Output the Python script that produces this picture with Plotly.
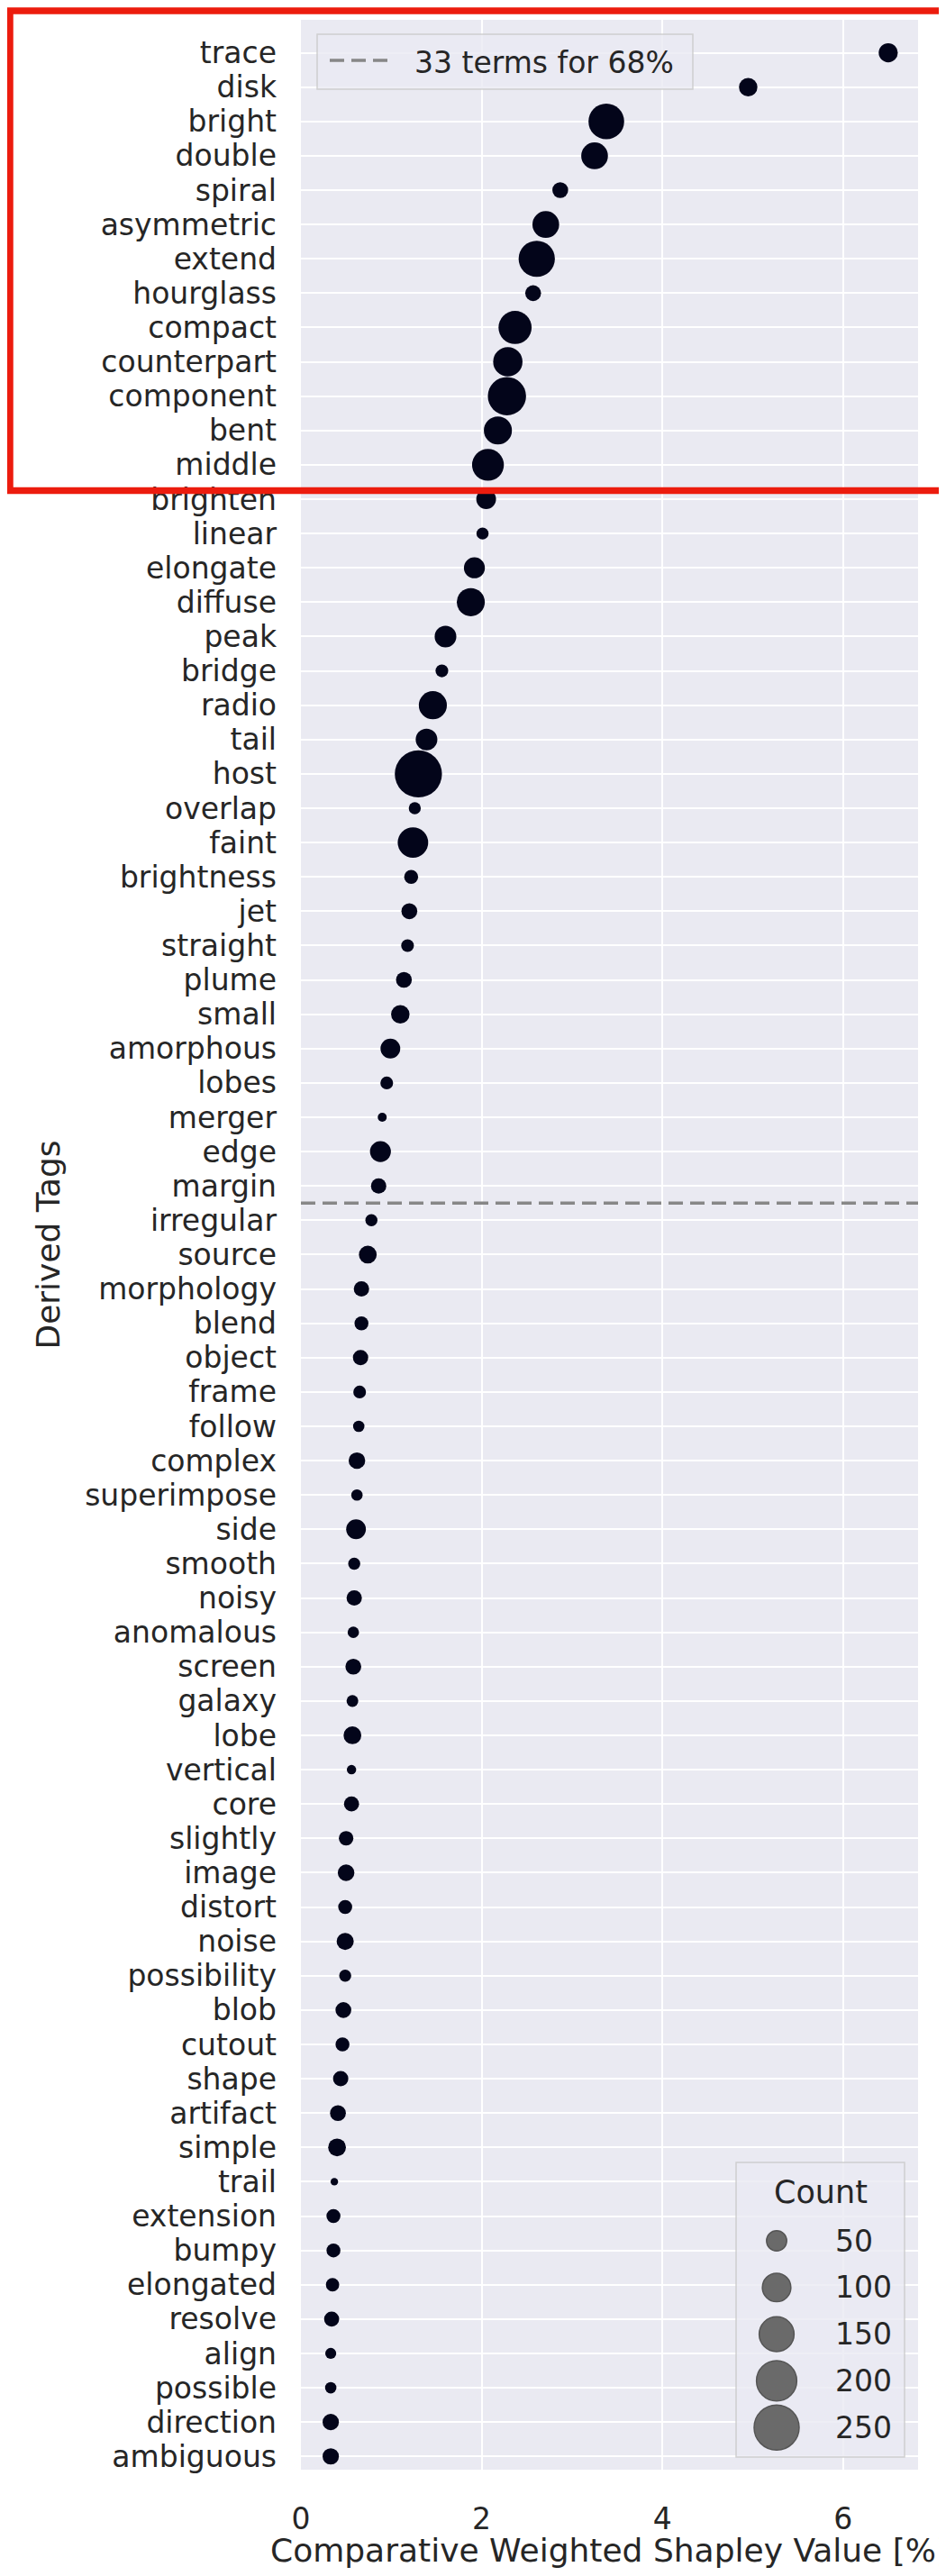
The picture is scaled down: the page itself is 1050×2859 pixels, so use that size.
import plotly.graph_objects as go

# ---------------- data ----------------
tags = [
    "trace", "disk", "bright", "double", "spiral", "asymmetric", "extend", "hourglass",
    "compact", "counterpart", "component", "bent", "middle", "brighten", "linear",
    "elongate", "diffuse", "peak", "bridge", "radio", "tail", "host", "overlap", "faint",
    "brightness", "jet", "straight", "plume", "small", "amorphous", "lobes", "merger",
    "edge", "margin", "irregular", "source", "morphology", "blend", "object", "frame",
    "follow", "complex", "superimpose", "side", "smooth", "noisy", "anomalous", "screen",
    "galaxy", "lobe", "vertical", "core", "slightly", "image", "distort", "noise",
    "possibility", "blob", "cutout", "shape", "artifact", "simple", "trail", "extension",
    "bumpy", "elongated", "resolve", "align", "possible", "direction", "ambiguous",
]
shapley_pct = [
    6.50, 4.95, 3.38, 3.25, 2.87, 2.71, 2.61, 2.57,
    2.37, 2.29, 2.28, 2.18, 2.07, 2.05, 2.01,
    1.92, 1.88, 1.60, 1.56, 1.46, 1.39, 1.30, 1.26, 1.24,
    1.22, 1.20, 1.18, 1.14, 1.10, 0.99, 0.95, 0.90,
    0.88, 0.86, 0.78, 0.74, 0.67, 0.67, 0.66, 0.65,
    0.64, 0.62, 0.62, 0.61, 0.59, 0.59, 0.58, 0.58,
    0.57, 0.57, 0.56, 0.56, 0.50, 0.50, 0.49, 0.49,
    0.49, 0.47, 0.46, 0.44, 0.41, 0.40, 0.37, 0.36,
    0.36, 0.35, 0.34, 0.33, 0.33, 0.33, 0.33,
]
counts = [
    45, 42, 157, 88, 31, 88, 162, 31,
    135, 106, 180, 97, 125, 48, 18,
    54, 97, 58, 20, 97, 58, 274, 18, 115,
    24, 31, 20, 31, 42, 48, 20, 10,
    54, 29, 18, 39, 29, 24, 29, 20,
    16, 34, 16, 48, 18, 29, 16, 31,
    17, 39, 11, 28, 26, 34, 24, 36,
    18, 31, 24, 29, 31, 39, 7, 24,
    24, 22, 28, 15, 16, 33, 33,
]
legend_counts = [50, 100, 150, 200, 250]
x_ticks = [0, 2, 4, 6]
rows_above_cutoff = 34
cutoff_label = "33 terms for 68%"

# ---------------- geometry ----------------
OFF = 8                      # browser default body margin
W, H = 1050 - OFF, 2859 - 2 * OFF
PL, PR, PT, PB = 334, 1019, 22, 2741      # plot area in page pixels
L, T = PL - OFF, PT - OFF
R = W - (PR - OFF)
B = H - (PB - OFF)

XR = [0, 6.83]
n = len(tags)
Y_TOP, Y_BOT = -0.96, n - 1 + 0.386


def fx(px):  # page px -> paper
    return (px - PL) / (PR - PL)


def fy(py):
    return (PB - py) / (PB - PT)


def dx(px):  # page px -> x data
    return XR[0] + (px - PL) / (PR - PL) * (XR[1] - XR[0])


def dy(py):  # page px -> y category index
    return Y_TOP + (py - PT) / (PB - PT) * (Y_BOT - Y_TOP)


FONT = "DejaVu Sans"
TXT = "#262626"
DOT = "#03051A"
BG = "#EAEAF2"
SIZEREF = 0.2
DASH = "16px,8px"
TICK_SIZE = 33
TITLE_SIZE = 36
LEG_SIZE = 33

fig = go.Figure()

fig.add_trace(go.Scatter(
    x=shapley_pct, y=tags, mode="markers",
    marker=dict(size=counts, sizemode="area", sizeref=SIZEREF, color=DOT,
                opacity=1, line=dict(width=0)),
    showlegend=False,
))

# size legend markers on an overlay axis measured in plot pixels
leg_mx = 862 - PL
leg_y0 = 2487 - PT
leg_step = 51.8
fig.add_trace(go.Scatter(
    x=[leg_mx] * len(legend_counts),
    y=[leg_y0 + i * leg_step for i in range(len(legend_counts))],
    xaxis="x2", yaxis="y2", mode="markers",
    marker=dict(size=legend_counts, sizemode="area", sizeref=SIZEREF, opacity=1,
                color="#6A6A6A", line=dict(color="#555555", width=1.5)),
    showlegend=False, hoverinfo="skip",
))

box_fill = "rgba(234,234,242,0.8)"
box_line = dict(color="rgba(204,204,204,0.9)", width=1.5)
shapes = [
    # cutoff line
    dict(type="line", xref="x", yref="y", x0=XR[0], x1=XR[1],
         y0=rows_above_cutoff - 0.5, y1=rows_above_cutoff - 0.5,
         line=dict(color="#878787", width=3.5, dash=DASH), layer="between"),
    # top legend box + sample
    dict(type="rect", xref="x", yref="y", x0=dx(352), x1=dx(769), y0=dy(38), y1=dy(99),
         fillcolor=box_fill, line=box_line, layer="between"),
    dict(type="line", xref="x", yref="y", x0=dx(366), x1=dx(432), y0=dy(67), y1=dy(67),
         line=dict(color="#878787", width=3.5, dash=DASH), layer="between"),
    # count legend box
    dict(type="rect", xref="x", yref="y", x0=dx(817), x1=dx(1004), y0=dy(2400), y1=dy(2727),
         fillcolor=box_fill, line=box_line, layer="between"),
    # red highlight rectangle
    dict(type="rect", xref="paper", yref="paper",
         x0=fx(11), x1=fx(1075), y0=fy(12), y1=fy(544.5),
         line=dict(color="#EC1C0E", width=7.5), fillcolor="rgba(0,0,0,0)", layer="above"),
]

annotations = [
    dict(text=cutoff_label, xref="paper", yref="paper", x=fx(458), y=fy(69),
         xanchor="left", yanchor="middle", showarrow=False,
         font=dict(family=FONT, size=LEG_SIZE, color=TXT)),
    dict(text="Count", xref="paper", yref="paper", x=fx(911), y=fy(2433),
         xanchor="center", yanchor="middle", showarrow=False,
         font=dict(family=FONT, size=TITLE_SIZE - 1, color=TXT)),
]
for i, c in enumerate(legend_counts):
    annotations.append(dict(text=str(c), xref="paper", yref="paper", x=fx(925),
                            y=fy(2487 + i * leg_step), xanchor="left", yanchor="middle",
                            showarrow=False, font=dict(family=FONT, size=LEG_SIZE, color=TXT)))

fig.update_layout(
    width=W, height=H,
    margin=dict(l=L, r=R, t=T, b=B, autoexpand=False),
    paper_bgcolor="white", plot_bgcolor=BG,
    font=dict(family=FONT, color=TXT),
    shapes=shapes, annotations=annotations,
    xaxis=dict(range=XR, tickmode="array", tickvals=x_ticks, showgrid=True, gridcolor="white",
               gridwidth=2, zeroline=False, showline=False, ticks="",
               ticklabelstandoff=32, tickfont=dict(family=FONT, size=TICK_SIZE, color=TXT),
               title=dict(text="Comparative Weighted Shapley Value [%]", standoff=14,
                          font=dict(family=FONT, size=TITLE_SIZE, color=TXT)),
               automargin=False),
    yaxis=dict(type="category", categoryorder="array", categoryarray=tags,
               tickmode="linear", tick0=0, dtick=1,
               range=[Y_BOT, Y_TOP], showgrid=True, gridcolor="white",
               gridwidth=2, zeroline=False, showline=False, ticks="",
               ticklabelstandoff=26, tickfont=dict(family=FONT, size=TICK_SIZE, color=TXT),
               title=dict(text="Derived Tags", standoff=16,
                          font=dict(family=FONT, size=TITLE_SIZE, color=TXT)),
               automargin=False),
    xaxis2=dict(overlaying="x", anchor="y2", range=[0, PR - PL], visible=False),
    yaxis2=dict(overlaying="y", anchor="x2", range=[PB - PT, 0], visible=False),
    showlegend=False,
)

fig.write_html("out.html")
